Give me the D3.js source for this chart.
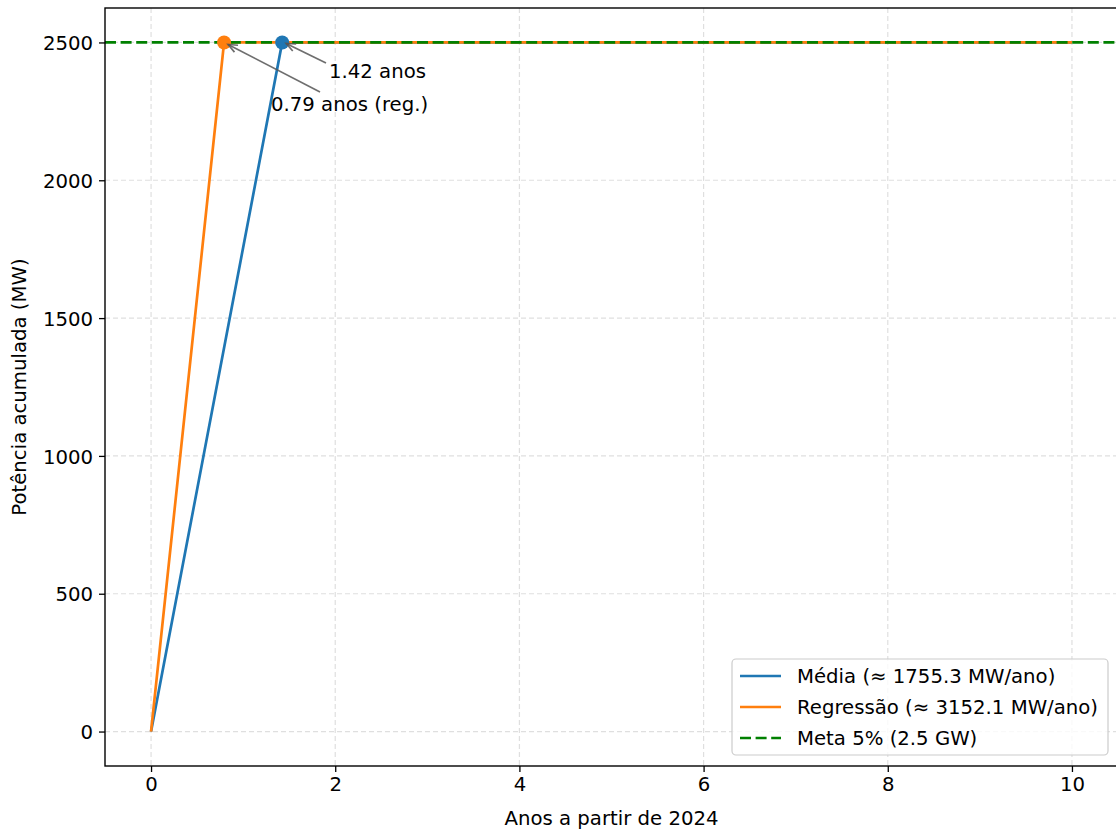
<!DOCTYPE html>
<html><head><meta charset="utf-8">
<script src="https://cdn.jsdelivr.net/npm/d3@7"></script>
<style>
html,body{margin:0;padding:0;background:#fff;overflow:hidden;}
svg{display:block;font-family:"DejaVu Sans",sans-serif;}
</style></head>
<body>
<script>
// ---- data ----
const mediaYears = [0, 1.424, 10];
const mediaPower = [0, 2500, 2500];
const regYears = [0, 0.793, 10];
const regPower = [0, 2500, 2500];
const targetMW = 2500;
const mediaHit = [1.424, 2500];
const regHit = [0.793, 2500];
const xTicks = [0, 2, 4, 6, 8, 10];
const yTicks = [0, 500, 1000, 1500, 2000, 2500];
const legendLabels = ["Média (≈ 1755.3 MW/ano)", "Regressão (≈ 3152.1 MW/ano)", "Meta 5% (2.5 GW)"];
const annotTexts = ["1.42 anos", "0.79 anos (reg.)"];

const W = 1116, H = 830;
const m = {left:105, top:8, right:1118, bottom:766};
const FS = 19.7;
const svg = d3.select("body").append("svg").attr("width", W).attr("height", H);

const x = d3.scaleLinear().domain([-0.5, 10.5]).range([m.left, m.right]);
const y = d3.scaleLinear().domain([-125, 2625]).range([m.bottom, m.top]);

const defs = svg.append("defs");
defs.append("clipPath").attr("id","clip").append("rect")
  .attr("x", m.left).attr("y", m.top).attr("width", m.right-m.left).attr("height", m.bottom-m.top);

// grid
const grid = svg.append("g");
grid.selectAll(".gx").data(xTicks).enter().append("line")
  .attr("x1", d=>x(d)).attr("x2", d=>x(d)).attr("y1", m.top).attr("y2", m.bottom)
  .attr("stroke","#b0b0b0").attr("stroke-opacity",0.4).attr("stroke-width",1.2).attr("stroke-dasharray","5,3");
grid.selectAll(".gy").data(yTicks).enter().append("line")
  .attr("y1", d=>y(d)).attr("y2", d=>y(d)).attr("x1", m.left).attr("x2", m.right)
  .attr("stroke","#b0b0b0").attr("stroke-opacity",0.4).attr("stroke-width",1.2).attr("stroke-dasharray","5,3");

const plot = svg.append("g").attr("clip-path","url(#clip)");
const line = d3.line().x(d=>x(d[0])).y(d=>y(d[1]));
const mediaPts = mediaYears.map((t,i)=>[t, mediaPower[i]]);
const regPts = regYears.map((t,i)=>[t, regPower[i]]);
plot.append("path").attr("d", line(mediaPts)).attr("fill","none").attr("stroke","#1f77b4").attr("stroke-width",2.7);
plot.append("path").attr("d", line(regPts)).attr("fill","none").attr("stroke","#ff7f0e").attr("stroke-width",2.7);
plot.append("line").attr("x1", m.left).attr("x2", m.right).attr("y1", y(targetMW)).attr("y2", y(targetMW))
  .attr("stroke","#008000").attr("stroke-width",2.7).attr("stroke-dasharray","11,4.6");
plot.append("circle").attr("cx", x(mediaHit[0])).attr("cy", y(mediaHit[1])).attr("r",7).attr("fill","#1f77b4");
plot.append("circle").attr("cx", x(regHit[0])).attr("cy", y(regHit[1])).attr("r",7).attr("fill","#ff7f0e");

// annotations
function arrow(x0,y0,x1,y1){
  const g = svg.append("g").attr("stroke","#555").attr("stroke-opacity",0.85).attr("fill","none").attr("stroke-width",1.7);
  g.append("line").attr("x1",x0).attr("y1",y0).attr("x2",x1).attr("y2",y1);
  const ang = Math.atan2(y1-y0, x1-x0);
  const L = 10, a = 0.4;
  const p1 = [x1 - L*Math.cos(ang-a), y1 - L*Math.sin(ang-a)];
  const p2 = [x1 - L*Math.cos(ang+a), y1 - L*Math.sin(ang+a)];
  g.append("path").attr("d", `M${p1[0]},${p1[1]}L${x1},${y1}L${p2[0]},${p2[1]}`);
}
arrow(326, 63, x(mediaHit[0])+4, y(mediaHit[1])+1);
arrow(320, 92, x(regHit[0])+4, y(regHit[1])+2);
svg.append("text").attr("x",329).attr("y",78).attr("font-size",FS).text(annotTexts[0]);
svg.append("text").attr("x",271).attr("y",111).attr("font-size",FS).text(annotTexts[1]);

// axes
const xAxis = svg.append("g").attr("transform",`translate(0,${m.bottom})`)
  .call(d3.axisBottom(x).tickValues(xTicks).tickFormat(d3.format("d")).tickSize(6).tickPadding(5));
const yAxis = svg.append("g").attr("transform",`translate(${m.left},0)`)
  .call(d3.axisLeft(y).tickValues(yTicks).tickFormat(d3.format("d")).tickSize(6).tickPadding(6));
[xAxis,yAxis].forEach(a=>{
  a.select(".domain").remove();
  a.selectAll("line").attr("stroke","#000").attr("stroke-width",1.3);
  a.selectAll("text").attr("font-size",FS).attr("font-family","DejaVu Sans").attr("fill","#000");
});
yAxis.selectAll("text").attr("dy","0.36em");
// spines
svg.append("rect").attr("x",m.left).attr("y",m.top).attr("width",m.right-m.left).attr("height",m.bottom-m.top)
  .attr("fill","none").attr("stroke","#000").attr("stroke-width",1.4);

// labels
svg.append("text").attr("x",(m.left+m.right)/2).attr("y",825).attr("text-anchor","middle").attr("font-size",FS).text("Anos a partir de 2024");
svg.append("text").attr("transform",`translate(26,${(m.top+m.bottom)/2}) rotate(-90)`).attr("text-anchor","middle").attr("font-size",FS).text("Potência acumulada (MW)");

// legend
const lg = svg.append("g");
lg.append("rect").attr("x",732).attr("y",659).attr("width",376).attr("height",96).attr("rx",4)
  .attr("fill","#fff").attr("fill-opacity",0.8).attr("stroke","#cccccc").attr("stroke-width",1.2);
const lcol = ["#1f77b4","#ff7f0e","#008000"];
legendLabels.forEach((t,i)=>{
  const yy = 676 + i*31;
  lg.append("line").attr("x1",740).attr("x2",781).attr("y1",yy).attr("y2",yy)
    .attr("stroke",lcol[i]).attr("stroke-width",2.7).attr("stroke-dasharray", i===2 ? "11,4.6" : null);
  lg.append("text").attr("x",797).attr("y",yy).attr("dy","0.36em").attr("font-size",FS).text(t);
});
</script>
</body></html>
